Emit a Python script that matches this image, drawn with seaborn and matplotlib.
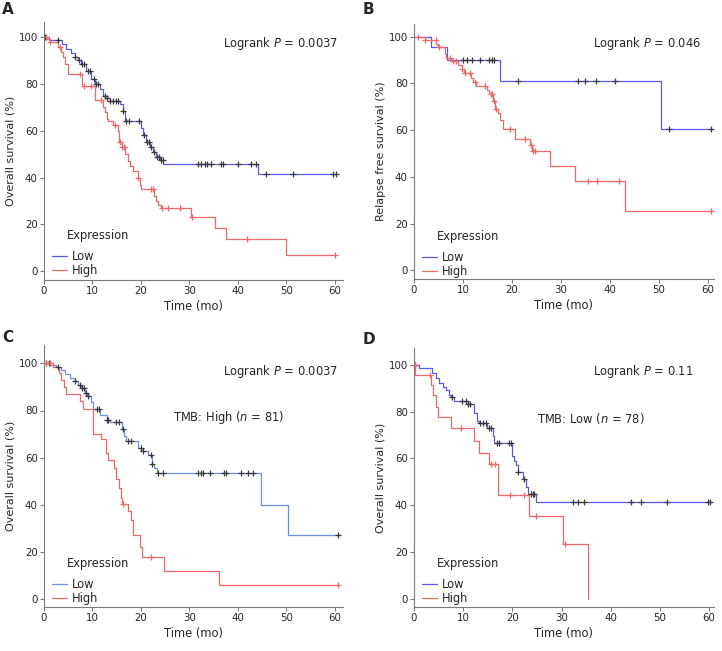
import numpy as np
import matplotlib
matplotlib.use("Agg")
import matplotlib.pyplot as plt
import seaborn as sns

# Kaplan-Meier step data (time in months, survival in %)
# Panel A - overall survival
a_low_t = [0, 1.0, 3.8, 4.6, 5.5, 6.3, 7.0, 7.7, 8.7, 9.8, 10.5, 11.5, 12.2, 12.9, 13.6, 15.6,
           16.2, 16.7, 20.1, 20.4, 21.1, 21.8, 22.5, 23.2, 23.9, 24.6, 44.2, 60.2]
a_low_s = [100, 98.8, 97, 95, 93, 91.5, 90, 88.6, 85.7, 82, 80, 78, 75, 74, 72.5, 71.5,
           68.6, 64.3, 61, 58, 55, 53, 51, 48.7, 47.3, 45.9, 41.6, 41.6]
a_low_cens = [0.3, 2.8, 6.5, 7.3, 7.8, 8.3, 9.0, 9.5, 10.3, 10.8, 11.2, 12.6, 13.1, 13.7, 14.2,
              14.8, 15.3, 16.4, 16.9, 17.5, 19.7, 20.6, 21.3, 21.7, 22.1, 22.6, 23.4, 23.7,
              24.1, 24.5, 31.8, 32.5, 33.2, 33.7, 34.4, 36.6, 37.0, 40.0, 42.8, 43.8, 45.9,
              51.4, 59.7, 60.2]
a_high_t = [0, 0.5, 1.2, 2.9, 3.6, 3.9, 4.3, 5.0, 7.9, 10.5, 12.2, 12.6, 12.9, 13.2, 14.2, 15.3,
            15.5, 16.0, 16.7, 17.3, 17.7, 18.4, 19.4, 19.8, 20.1, 22.8, 23.1, 23.5, 24.2, 30.4,
            35.2, 37.6, 50.0, 60.1]
a_high_s = [100, 99, 98, 95.7, 93.6, 91.5, 88.6, 84, 79, 73, 70, 68, 65, 64, 62.5, 60,
            55, 53, 50, 47, 45, 43, 40, 37, 35, 32, 30, 28.5, 27, 23,
            18.5, 14, 7, 7]
a_high_cens = [0.4, 1.3, 3.2, 7.4, 8.2, 9.8, 11.8, 14.6, 15.6, 16.1, 16.5, 19.5, 22.0, 22.5,
               24.4, 25.6, 28.0, 30.6, 41.8, 60.0]

# Panel B - relapse free survival
b_low_t = [0, 3.4, 6.8, 17.5, 50.3, 60.5]
b_low_s = [100, 95.5, 90, 81, 60.6, 60.6]
b_low_cens = [9.9, 10.9, 11.8, 13.5, 15.2, 16.0, 16.3, 21.2, 33.5, 34.8, 37.2, 41.0, 52.0, 60.5]
b_high_t = [0, 2.2, 4.5, 4.9, 6.3, 6.6, 7.6, 9.0, 9.7, 10.1, 11.7, 12.1, 12.7, 14.8, 15.2,
            16.1, 16.5, 17.1, 17.5, 18.2, 20.7, 23.6, 24.1, 27.8, 32.8, 43.0, 60.5]
b_high_s = [100, 98.5, 97, 95.5, 92.5, 91, 89.6, 88, 86, 84.5, 82.5, 80.5, 78.7, 77, 75.5,
            72.6, 69, 67.5, 64.4, 60.5, 56, 53.5, 51, 44.6, 38.3, 25.3, 25.3]
b_high_cens = [0.8, 2.3, 4.4, 5.0, 7.4, 8.0, 8.5, 9.8, 10.5, 11.5, 12.5, 14.5, 15.7, 16.0,
               16.3, 16.7, 19.6, 22.7, 23.8, 24.3, 24.6, 35.5, 37.3, 41.8, 60.5]

# Panel C - TMB high
c_low_t = [0, 1.2, 2.5, 3.6, 4.3, 5.3, 6.3, 7.0, 7.7, 8.4, 8.9, 9.8, 10.1, 11.5, 12.9, 13.6,
           16.0, 16.5, 16.9, 19.4, 20.1, 21.5, 22.2, 22.8, 23.3, 44.7, 50.4, 60.7]
c_low_s = [100, 99.5, 98.6, 97, 95.7, 94, 92.5, 91, 89.5, 87.5, 86, 83.5, 80.5, 78, 76, 75,
           72, 69, 67, 64, 63, 61, 57.5, 55.5, 53.5, 40, 27, 27]
c_low_cens = [0.5, 1.0, 2.8, 6.5, 7.5, 7.9, 8.2, 8.6, 9.0, 11.0, 11.3, 13.0, 13.3, 14.8, 15.4,
              16.3, 17.4, 17.9, 20.0, 20.5, 22.0, 22.3, 23.5, 24.5, 31.8, 32.5, 32.8, 34.3,
              37.1, 37.6, 40.7, 42.1, 43.1, 60.7]
c_high_t = [0, 1.8, 3.1, 3.6, 4.1, 4.6, 7.4, 8.1, 10.1, 11.8, 12.7, 13.2, 14.5, 14.9, 15.5,
            15.8, 16.1, 17.3, 17.9, 18.4, 19.9, 20.3, 24.7, 36.2, 60.6]
c_high_s = [100, 98.5, 96, 93, 90, 87, 84, 80.5, 70, 68, 62, 59, 55.5, 51, 47,
            43, 40.5, 37.5, 33.5, 27, 22, 18, 12, 6, 6]
c_high_cens = [0.5, 1.2, 16.3, 22.0, 60.6]

# Panel D - TMB low
d_low_t = [0, 1.0, 3.7, 4.4, 5.1, 5.8, 6.5, 7.1, 7.6, 8.2, 10.9, 12.2, 12.8, 13.3, 14.8, 16.0,
           16.3, 20.0, 20.3, 20.7, 21.2, 22.1, 22.8, 23.1, 24.8, 60.2]
d_low_s = [100, 98.5, 96.5, 94.5, 92, 90.5, 89, 87, 86, 84.5, 83, 79.5, 76, 75, 73, 69.5,
           66.5, 61, 59, 57, 54, 51, 48, 45, 41.5, 41.5]
d_low_cens = [0.3, 7.8, 9.8, 10.5, 11.0, 11.3, 13.5, 14.0, 14.6, 15.2, 15.6, 16.8, 17.2, 19.3,
              19.8, 21.2, 22.4, 23.8, 24.2, 24.5, 32.3, 33.3, 34.5, 44.2, 46.2, 51.5, 59.8, 60.1]
d_high_t = [0, 0.3, 3.4, 3.9, 4.4, 4.9, 7.6, 12.2, 13.2, 15.3, 17.1, 23.4, 30.2, 35.3]
d_high_s = [100, 95.5, 91.5, 87, 82, 77.5, 73, 67.5, 62.5, 57.5, 44.5, 35.5, 23.5, 0]
d_high_cens = [0.2, 3.3, 9.5, 15.6, 16.4, 19.5, 22.4, 24.8, 30.7]

pvalues = ["0.0037", "0.046", "0.0037", "0.11"]
subtitles = [None, None, "TMB: High ($n$ = 81)", "TMB: Low ($n$ = 78)"]
ylabels = ["Overall survival (%)", "Relapse free survival (%)",
           "Overall survival (%)", "Overall survival (%)"]
letters = ["A", "B", "C", "D"]

sns.set_style("ticks")
plt.rcParams['font.family'] = ['DejaVu Sans']
plt.rcParams['font.size'] = 8
plt.rcParams['mathtext.fontset'] = 'dejavusans'

RED = "#f06868"
CENS_LOW = "#3a3a3a"
AXIS_GREY = "#7a7a7a"

W, H = 722, 651
fig = plt.figure(figsize=(W / 100, H / 100), dpi=100)


def px(x, y):
    # pixel position -> figure fraction
    return x / W, 1 - y / H


def step_at(times, surv, t):
    idx = np.searchsorted(times, t, side='right') - 1
    return np.asarray(surv)[idx]


def km_panel(ax, low_t, low_s, low_c, high_t, high_s, high_c, blue):
    sns.lineplot(x=low_t, y=low_s, ax=ax, color=blue, lw=0.9, drawstyle='steps-post',
                 estimator=None, sort=False, label='Low')
    sns.lineplot(x=high_t, y=high_s, ax=ax, color=RED, lw=0.9, drawstyle='steps-post',
                 estimator=None, sort=False, label='High')
    sns.scatterplot(x=low_c, y=step_at(low_t, low_s, low_c), ax=ax, marker='+', s=24,
                    color=CENS_LOW, linewidth=0.9, legend=False, zorder=3)
    sns.scatterplot(x=high_c, y=step_at(high_t, high_s, high_c), ax=ax, marker='+', s=24,
                    color=RED, linewidth=0.9, legend=False, zorder=3)


panels = [
    dict(rect=(44, 22, 343, 280), xlim=61.7, ylim=(-3.7, 106.4), blue="#5a5af0",
         data=(a_low_t, a_low_s, a_low_cens, a_high_t, a_high_s, a_high_cens),
         letter=(2, 10), logrank=(223, 43), sub=None, expr=(67, 235), leg=(52, 250)),
    dict(rect=(414, 24, 714, 279), xlim=61.2, ylim=(-3.7, 105.4), blue="#5a5af0",
         data=(b_low_t, b_low_s, b_low_cens, b_high_t, b_high_s, b_high_cens),
         letter=(363, 10), logrank=(593, 43), sub=None, expr=(437, 236), leg=(422, 251)),
    dict(rect=(44, 345, 343, 607), xlim=61.7, ylim=(-3.4, 107.8), blue="#6b8fe8",
         data=(c_low_t, c_low_s, c_low_cens, c_high_t, c_high_s, c_high_cens),
         letter=(2, 337), logrank=(223, 371), sub=(173, 417), expr=(67, 563), leg=(52, 578)),
    dict(rect=(414, 348, 714, 607), xlim=61.0, ylim=(-3.4, 107.1), blue="#5a5af0",
         data=(d_low_t, d_low_s, d_low_cens, d_high_t, d_high_s, d_high_cens),
         letter=(363, 340), logrank=(593, 372), sub=(537, 419), expr=(437, 563), leg=(422, 578)),
]

for i, p in enumerate(panels):
    x0, y0, x1, y1 = p['rect']
    ax = fig.add_axes([x0 / W, 1 - y1 / H, (x1 - x0) / W, (y1 - y0) / H])
    km_panel(ax, *p['data'], blue=p['blue'])

    ax.set_xlim(0, p['xlim'])
    ax.set_ylim(*p['ylim'])
    ax.set_xticks(range(0, 61, 10))
    ax.set_yticks(range(0, 101, 20))
    ax.set_xlabel("Time (mo)", fontsize=8.3, labelpad=3)
    ax.set_ylabel(ylabels[i], fontsize=8, labelpad=2)
    ax.tick_params(length=3, width=0.8, color=AXIS_GREY, labelsize=7.4, pad=1.5)
    for side in ['top', 'right']:
        ax.spines[side].set_visible(False)
    for side in ['left', 'bottom']:
        ax.spines[side].set_color(AXIS_GREY)
        ax.spines[side].set_linewidth(0.8)

    # legend (entries only) plus the "Expression" heading
    handles, labels = ax.get_legend_handles_labels()
    ax.legend(handles, labels, loc='upper left', bbox_to_anchor=px(*p['leg']),
              bbox_transform=fig.transFigure, frameon=False, fontsize=8.3,
              handlelength=1.3, handletextpad=0.4, labelspacing=0.05,
              borderpad=0, borderaxespad=0)
    fig.text(*px(*p['expr']), "Expression", fontsize=8.3, va='center', ha='left')

    fig.text(*px(*p['logrank']), "Logrank $P$ = " + pvalues[i], fontsize=8.3,
             va='center', ha='left')
    if p['sub']:
        fig.text(*px(*p['sub']), subtitles[i], fontsize=8.3, va='center', ha='left')
    fig.text(*px(*p['letter']), letters[i], fontsize=11, fontweight='bold',
             va='center', ha='left')

fig.savefig("out.png", dpi=100)
